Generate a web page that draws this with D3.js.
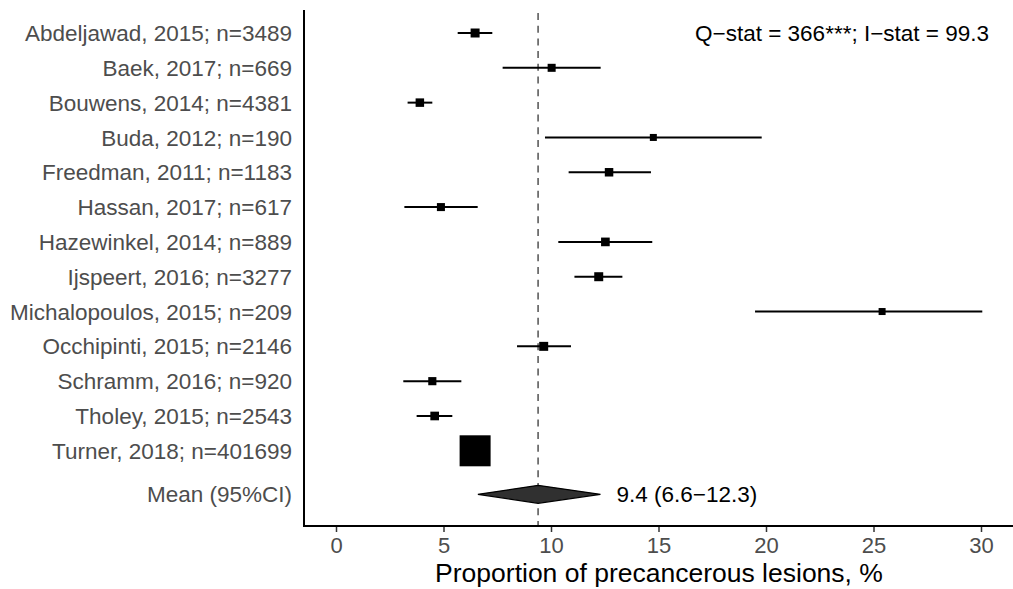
<!DOCTYPE html>
<html>
<head>
<meta charset="utf-8">
<script src="https://cdn.jsdelivr.net/npm/d3@7"></script>
<style>
body { margin: 0; background: #fff; }
text { font-family: "Liberation Sans", Arial, sans-serif; }
</style>
</head>
<body>
<script>
var studies = ["Abdeljawad, 2015; n=3489", "Baek, 2017; n=669", "Bouwens, 2014; n=4381",
               "Buda, 2012; n=190", "Freedman, 2011; n=1183", "Hassan, 2017; n=617",
               "Hazewinkel, 2014; n=889", "Ijspeert, 2016; n=3277", "Michalopoulos, 2015; n=209",
               "Occhipinti, 2015; n=2146", "Schramm, 2016; n=920", "Tholey, 2015; n=2543",
               "Turner, 2018; n=401699"];
var est   = [6.47, 10.03, 3.90, 14.76, 12.70, 4.88, 12.53, 12.22, 25.40, 9.66, 4.48, 4.59, 6.47];
var lower = [5.66, 7.75, 3.33, 9.72, 10.82, 3.18, 10.34, 11.09, 19.49, 8.42, 3.13, 3.75, 6.35];
var upper = [7.27, 12.31, 4.48, 19.80, 14.65, 6.59, 14.71, 13.32, 30.06, 10.93, 5.83, 5.41, 6.60];
var weights = [8.4, 6.7, 7.5, 5.1, 7.5, 6.7, 7.8, 8.4, 5.1, 8.4, 6.9, 7.8, 100];
var meanLabel = "Mean (95%CI)";
var pooled = { est: 9.4, lo: 6.6, hi: 12.3 };
var xTicks = [0, 5, 10, 15, 20, 25, 30];
var statText = "Q\u2212stat = 366***; I\u2212stat = 99.3";
var xTitle = "Proportion of precancerous lesions, %";

var W = 1013, H = 589;
var svg = d3.select("body").append("svg").attr("width", W).attr("height", H);

var x = d3.scaleLinear().domain([0, 30]).range([336, 981]);
// rows 1..13 are studies, mean sits a bit lower
var y = d3.scaleLinear().domain([1, 13]).range([33, 450.8]);
var meanPos = studies.length + 1.25;
var size = d3.scaleSqrt().domain([0, 100]).range([0, 31]);

var plotLeft = 304, plotTop = 10, plotBottom = 526;

var rows = studies.map(function(s, i) {
	return { name: s, est: est[i], lo: lower[i], hi: upper[i], w: weights[i], pos: i + 1 };
});

// reference line at pooled estimate
svg.append("line")
	.attr("x1", x(pooled.est)).attr("x2", x(pooled.est))
	.attr("y1", 13).attr("y2", plotBottom)
	.attr("stroke", "#6e6e6e").attr("stroke-width", 1.8)
	.attr("stroke-dasharray", "7,5.7");

// CI lines
svg.selectAll("line.ci").data(rows).enter().append("line")
	.attr("class", "ci")
	.attr("x1", function(d) { return x(d.lo); })
	.attr("x2", function(d) { return x(d.hi); })
	.attr("y1", function(d) { return y(d.pos); })
	.attr("y2", function(d) { return y(d.pos); })
	.attr("stroke", "#000").attr("stroke-width", 2);

// squares
svg.selectAll("rect.pt").data(rows).enter().append("rect")
	.attr("class", "pt")
	.attr("x", function(d) { return x(d.est) - size(d.w) / 2; })
	.attr("y", function(d) { return y(d.pos) - size(d.w) / 2; })
	.attr("width", function(d) { return size(d.w); })
	.attr("height", function(d) { return size(d.w); })
	.attr("fill", "#000");

// diamond
var my = y(meanPos);
svg.append("path")
	.attr("d", "M" + x(pooled.lo) + "," + my + "L" + x(pooled.est) + "," + (my - 9) +
		"L" + x(pooled.hi) + "," + my + "L" + x(pooled.est) + "," + (my + 9) + "Z")
	.attr("fill", "#303030").attr("stroke", "#000").attr("stroke-width", 1.2);

svg.append("text")
	.attr("x", x(pooled.hi) + 16).attr("y", my).attr("dy", "0.36em")
	.attr("font-size", 22.5).attr("fill", "#000")
	.text(pooled.est.toFixed(1) + " (" + pooled.lo.toFixed(1) + "\u2212" + pooled.hi.toFixed(1) + ")");

// y labels
var labels = studies.concat([meanLabel]);
svg.selectAll("text.lab").data(labels).enter().append("text")
	.attr("class", "lab")
	.attr("x", 292)
	.attr("y", function(d, i) { return i < studies.length ? y(i + 1) : my; })
	.attr("dy", "0.36em")
	.attr("text-anchor", "end")
	.attr("font-size", 22.5).attr("fill", "#4d4d4d")
	.text(function(d) { return d; });

// axes lines
svg.append("line").attr("x1", plotLeft).attr("x2", plotLeft)
	.attr("y1", plotTop).attr("y2", plotBottom + 1)
	.attr("stroke", "#000").attr("stroke-width", 2);

var xAxis = svg.append("g").attr("transform", "translate(0," + plotBottom + ")")
	.call(d3.axisBottom(x).tickValues(xTicks).tickSize(6).tickPadding(5).tickSizeOuter(0));
xAxis.select(".domain").remove();
xAxis.append("line").attr("x1", plotLeft - 1).attr("x2", W).attr("stroke", "#000").attr("stroke-width", 2);
xAxis.selectAll(".tick line").attr("stroke", "#333").attr("stroke-width", 1.5);
xAxis.selectAll(".tick text")
	.attr("font-size", 22).attr("fill", "#4d4d4d")
	.attr("font-family", "Liberation Sans, Arial, sans-serif");

svg.append("text")
	.attr("x", 659).attr("y", 582)
	.attr("text-anchor", "middle").attr("font-size", 26.5).attr("fill", "#000")
	.text(xTitle);

svg.append("text")
	.attr("x", 989).attr("y", y(1)).attr("dy", "0.36em")
	.attr("text-anchor", "end").attr("font-size", 22.5).attr("fill", "#000")
	.text(statText);
</script>
</body>
</html>
